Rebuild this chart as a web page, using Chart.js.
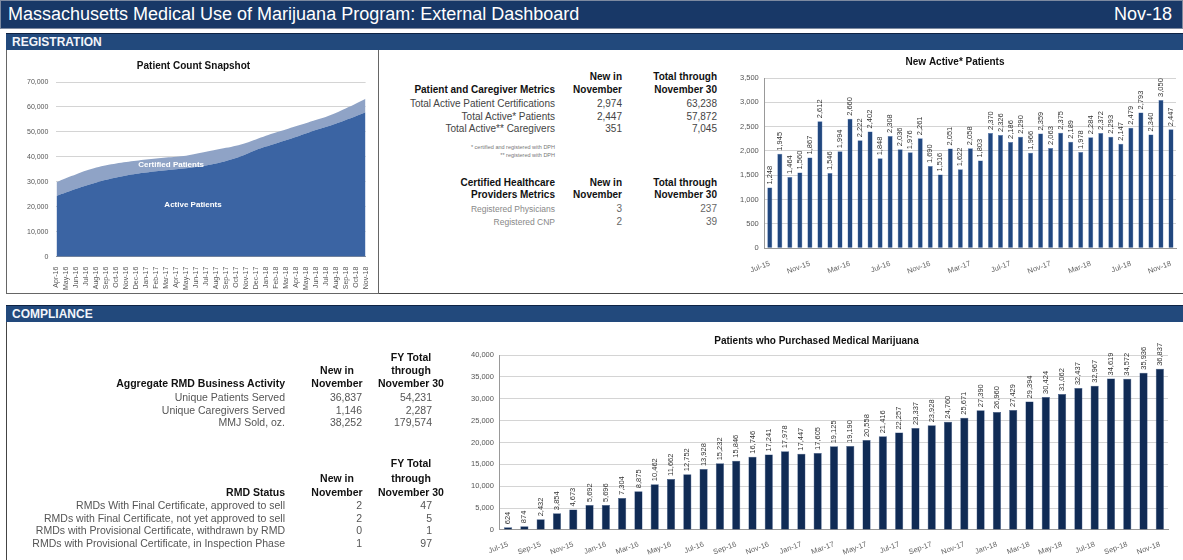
<!DOCTYPE html>
<html>
<head>
<meta charset="utf-8">
<script src="https://cdn.jsdelivr.net/npm/chart.js@4"></script>
<style>
  body { margin: 0; width: 1183px; height: 560px; background: #fff; position: relative; overflow: hidden;
         font-family: 'Liberation Sans', Arial, sans-serif; }
  .abs { position: absolute; }
  .titlebar { left: 0; top: 1; width: 1181px; height: 27px; background: #183867; border: 1px solid #7d8aa0; color: #fff;
              font-size: 18px; line-height: 27px; }
  .secbar { left: 6px; width: 1177px; height: 17px; background: #22497c; border-top: 1px solid #0e2344; color: #f2f5fa;
            font-size: 12px; font-weight: bold; line-height: 17px; padding-left: 6px; box-sizing: border-box; }
  .box { border-left: 1px solid #444; border-bottom: 1px solid #444; box-sizing: border-box; }
  .t { position: absolute; white-space: nowrap; line-height: 12px; }
  .b { font-weight: bold; color: #111; }
</style>
</head>
<body>
<div class="abs titlebar"><span style="padding-left:7px">Massachusetts Medical Use of Marijuana Program: External Dashboard</span>
  <span style="position:absolute; right:10px; top:0">Nov-18</span></div>

<div class="abs secbar" style="top:33px">REGISTRATION</div>
<div class="abs box" style="left:6px; top:50px; width:1177px; height:244px"></div>
<div class="abs" style="left:6px; top:50px; width:373px; height:244px; border:1px solid #666; border-top:none; box-sizing:border-box"></div>

<div class="abs secbar" style="top:305px">COMPLIANCE</div>
<div class="abs box" style="left:6px; top:322px; width:1177px; height:240px"></div>

<canvas id="snapshot" class="abs" style="left:8px; top:52px"></canvas>
<canvas id="newActive" class="abs" style="left:728px; top:53px"></canvas>
<canvas id="purchased" class="abs" style="left:458px; top:331px"></canvas>

<div id="tables"></div>

<script>
// Patient Count Snapshot (area)
const snapshotMonths = ['Apr-16','May-16','Jun-16','Jul-16','Aug-16','Sep-16','Oct-16','Nov-16','Dec-16',
  'Jan-17','Feb-17','Mar-17','Apr-17','May-17','Jun-17','Jul-17','Aug-17','Sep-17','Oct-17','Nov-17','Dec-17',
  'Jan-18','Feb-18','Mar-18','Apr-18','May-18','Jun-18','Jul-18','Aug-18','Sep-18','Oct-18','Nov-18'];
const activePatients = [24300, 25800, 27200, 28500, 29700, 30800, 31700, 32500, 33200, 33700, 34200, 34600,
  35000, 35400, 35900, 36500, 37300, 38300, 39500, 41000, 42700, 44100, 45400, 46700, 48000, 49400, 50800,
  52000, 53300, 54800, 56300, 57872];
const certifiedPatients = [29800, 31500, 33000, 34500, 35700, 36600, 37300, 37900, 38400, 38900, 39300, 39700,
  40000, 40400, 41200, 42000, 42800, 43600, 44500, 45600, 47000, 48500, 49800, 51000, 52300, 53500, 54800,
  56000, 57600, 59400, 61300, 63238];

// monthly bar charts
const barMonths = ['Jul-15','Aug-15','Sep-15','Oct-15','Nov-15','Dec-15',
  'Jan-16','Feb-16','Mar-16','Apr-16','May-16','Jun-16','Jul-16','Aug-16','Sep-16','Oct-16','Nov-16','Dec-16',
  'Jan-17','Feb-17','Mar-17','Apr-17','May-17','Jun-17','Jul-17','Aug-17','Sep-17','Oct-17','Nov-17','Dec-17',
  'Jan-18','Feb-18','Mar-18','Apr-18','May-18','Jun-18','Jul-18','Aug-18','Sep-18','Oct-18','Nov-18'];
const newActivePatients = [1248, 1945, 1464, 1560, 1867, 2612, 1546, 1994, 2660, 2222, 2402, 1848, 2308, 2036,
  1976, 2261, 1690, 1516, 2051, 1622, 2058, 1803, 2370, 2326, 2186, 2290, 1966, 2359, 2063, 2375, 2189, 1978,
  2284, 2372, 2293, 2147, 2479, 2793, 2340, 3050, 2447];
const purchasedPatients = [624, 874, 2432, 3854, 4673, 5692, 5696, 7304, 8875, 10462, 11662, 12752, 13928, 15232,
  15846, 16746, 17241, 17978, 17447, 17605, 19125, 19190, 20558, 21416, 22257, 23337, 23928, 24760, 25671,
  27390, 26960, 27429, 29394, 30424, 31062, 32437, 32967, 34619, 34572, 35936, 36837];

// text tables
const patientMetricLabels = ['Total Active Patient Certifications', 'Total Active* Patients', 'Total Active** Caregivers'];
const patientNewInNov = ['2,974', '2,447', '351'];
const patientTotalNov30 = ['63,238', '57,872', '7,045'];
const providerLabels = ['Registered Physicians', 'Registered CNP'];
const providerNewInNov = ['3', '2'];
const providerTotalNov30 = ['237', '39'];
const rmdActivityLabels = ['Unique Patients Served', 'Unique Caregivers Served', 'MMJ Sold, oz.'];
const rmdActivityNew = ['36,837', '1,146', '38,252'];
const rmdActivityFY = ['54,231', '2,287', '179,574'];
const rmdStatusLabels = ['RMDs With Final Certificate, approved to sell', 'RMDs with Final Certificate, not yet approved to sell',
  'RMDs with Provisional Certificate, withdrawn by RMD', 'RMDs with Provisional Certificate, in Inspection Phase'];
const rmdStatusNew = ['2', '2', '0', '1'];
const rmdStatusFY = ['47', '5', '1', '97'];

// build the text tables
const holder = document.getElementById('tables');
function txt(s, x, y, cls, size, align, color) {
  const d = document.createElement('div');
  d.className = 't ' + (cls || '');
  d.textContent = s;
  d.style.fontSize = size + 'px';
  d.style.top = (y - 6) + 'px';
  if (align === 'right') { d.style.right = (1183 - x) + 'px'; d.style.textAlign = 'right'; }
  else if (align === 'center') { d.style.left = (x - 60) + 'px'; d.style.width = '120px'; d.style.textAlign = 'center'; }
  else d.style.left = x + 'px';
  if (color) d.style.color = color;
  holder.appendChild(d);
}

// registration tables
txt('New in', 622, 77, 'b', 10, 'right');
txt('Total through', 717, 77, 'b', 10, 'right');
txt('Patient and Caregiver Metrics', 555, 90, 'b', 10, 'right');
txt('November', 622, 90, 'b', 10, 'right');
txt('November 30', 717, 90, 'b', 10, 'right');
patientMetricLabels.forEach((l, i) => {
  const y = 104 + i * 12.5;
  txt(l, 555, y, '', 10, 'right', '#444');
  txt(patientNewInNov[i], 622, y, '', 10, 'right', '#444');
  txt(patientTotalNov30[i], 717, y, '', 10, 'right', '#444');
});
txt('* certified and registered with DPH', 555, 147, '', 5.5, 'right', '#777');
txt('** registered with DPH', 555, 155, '', 5.5, 'right', '#777');
txt('Certified Healthcare', 555, 183, 'b', 10, 'right');
txt('New in', 622, 183, 'b', 10, 'right');
txt('Total through', 717, 183, 'b', 10, 'right');
txt('Providers Metrics', 555, 195, 'b', 10, 'right');
txt('November', 622, 195, 'b', 10, 'right');
txt('November 30', 717, 195, 'b', 10, 'right');
providerLabels.forEach((l, i) => {
  const y = 209 + i * 13;
  txt(l, 555, y, '', 8.5, 'right', '#888');
  txt(providerNewInNov[i], 622, y, '', 10, 'right', '#666');
  txt(providerTotalNov30[i], 717, y, '', 10, 'right', '#666');
});

// compliance tables
txt('FY Total', 411, 357, 'b', 10.5, 'center');
txt('New in', 337, 370, 'b', 10.5, 'center');
txt('through', 411, 370, 'b', 10.5, 'center');
txt('Aggregate RMD Business Activity', 285, 383, 'b', 10.5, 'right');
txt('November', 337, 383, 'b', 10.5, 'center');
txt('November 30', 411, 383, 'b', 10.5, 'center');
rmdActivityLabels.forEach((l, i) => {
  const y = 397 + i * 12.5;
  txt(l, 285, y, '', 10.5, 'right', '#555');
  txt(rmdActivityNew[i], 362, y, '', 10.5, 'right', '#555');
  txt(rmdActivityFY[i], 432, y, '', 10.5, 'right', '#555');
});
txt('FY Total', 411, 463, 'b', 10.5, 'center');
txt('New in', 337, 478, 'b', 10.5, 'center');
txt('through', 411, 478, 'b', 10.5, 'center');
txt('RMD Status', 285, 492, 'b', 10.5, 'right');
txt('November', 337, 492, 'b', 10.5, 'center');
txt('November 30', 411, 492, 'b', 10.5, 'center');
rmdStatusLabels.forEach((l, i) => {
  const y = 505 + i * 12.7;
  txt(l, 285, y, '', 10.5, 'right', '#555');
  txt(rmdStatusNew[i], 362, y, '', 10.5, 'right', '#555');
  txt(rmdStatusFY[i], 432, y, '', 10.5, 'right', '#555');
});

// charts
Chart.defaults.font.family = "'Liberation Sans', Arial, sans-serif";
Chart.defaults.color = '#555';
Chart.defaults.animation = false;

const fmt = v => Number(v).toLocaleString('en-US');

// vertical value labels over each bar
const barLabels = {
  id: 'barLabels',
  afterDatasetsDraw(chart, args, opts) {
    const ctx = chart.ctx;
    const meta = chart.getDatasetMeta(0);
    const data = chart.data.datasets[0].data;
    ctx.save();
    ctx.font = opts.font;
    ctx.fillStyle = opts.color;
    ctx.textAlign = 'left';
    ctx.textBaseline = 'middle';
    meta.data.forEach((bar, i) => {
      ctx.save();
      ctx.translate(bar.x, bar.y - 3);
      ctx.rotate(-Math.PI / 2);
      ctx.fillText(fmt(data[i]), 0, 0);
      ctx.restore();
    });
    ctx.restore();
  }
};

// series names written inside the area chart
const areaNames = {
  id: 'areaNames',
  afterDatasetsDraw(chart, args, opts) {
    const ctx = chart.ctx;
    ctx.save();
    ctx.font = 'bold 8px "Liberation Sans", Arial, sans-serif';
    ctx.fillStyle = '#fff';
    ctx.textAlign = 'center';
    ctx.textBaseline = 'middle';
    opts.items.forEach(it => {
      ctx.fillText(it.text, chart.scales.x.getPixelForValue(it.x), chart.scales.y.getPixelForValue(it.y));
    });
    ctx.restore();
  }
};

function setSize(id, w, h) {
  const c = document.getElementById(id);
  c.width = w; c.height = h;
  c.style.width = w + 'px'; c.style.height = h + 'px';
  return c;
}

new Chart(setSize('snapshot', 368, 240), {
  type: 'line',
  data: {
    labels: snapshotMonths,
    datasets: [
      { label: 'Active Patients', data: activePatients, fill: 'origin', backgroundColor: '#3b64a3',
        borderWidth: 0, pointRadius: 0, tension: 0.3 },
      { label: 'Certified Patients', data: certifiedPatients, fill: '-1', backgroundColor: '#8fa3c6',
        borderWidth: 0, pointRadius: 0, tension: 0.3 }
    ]
  },
  options: {
    responsive: false,
    layout: { padding: { left: 11, right: 8, top: 0, bottom: 0 } },
    plugins: {
      legend: { display: false },
      tooltip: { enabled: false },
      title: { display: true, text: 'Patient Count Snapshot', color: '#111',
               font: { size: 10, weight: 'bold' }, padding: { top: 8, bottom: 10 } },
      areaNames: { items: [ { text: 'Certified Patients', x: 11.5, y: 36900 },
                            { text: 'Active Patients', x: 13.7, y: 20800 } ] }
    },
    scales: {
      x: {
        offset: false,
        grid: { display: false },
        border: { color: '#999' },
        ticks: { autoSkip: false, minRotation: 90, maxRotation: 90, font: { size: 7 }, padding: 2 }
      },
      y: {
        min: 0, max: 70000,
        grid: { color: '#d4d4d4', drawTicks: false },
        border: { display: false },
        ticks: { stepSize: 10000, font: { size: 7 }, padding: 8, callback: v => fmt(v) }
      }
    }
  },
  plugins: [areaNames]
});

new Chart(setSize('newActive', 452, 236), {
  type: 'bar',
  data: {
    labels: barMonths,
    datasets: [{ data: newActivePatients, backgroundColor: '#21477f', borderColor: '#5a7bb0', borderWidth: 0.5,
                 barPercentage: 0.5, categoryPercentage: 1 }]
  },
  options: {
    responsive: false,
    layout: { padding: { left: 6, right: 4, top: 0, bottom: 10 } },
    plugins: {
      legend: { display: false },
      tooltip: { enabled: false },
      title: { display: true, text: 'New Active* Patients', color: '#111',
               font: { size: 10, weight: 'bold' }, padding: { top: 3, bottom: 10 } },
      barLabels: { font: '7.5px "Liberation Sans", Arial, sans-serif', color: '#333' }
    },
    scales: {
      x: {
        grid: { display: false },
        border: { color: '#999' },
        ticks: { autoSkip: false, minRotation: 20, maxRotation: 20, font: { size: 7.5 }, padding: 3, color: '#666',
                 callback: function(v, i) { return i % 4 === 0 ? this.getLabelForValue(v) : ''; } }
      },
      y: {
        min: 0, max: 3500,
        grid: { color: '#d4d4d4', drawTicks: false },
        border: { color: '#999' },
        ticks: { stepSize: 500, font: { size: 7.5 }, padding: 6, callback: v => fmt(v) }
      }
    }
  },
  plugins: [barLabels]
});

new Chart(setSize('purchased', 722, 228), {
  type: 'bar',
  data: {
    labels: barMonths,
    datasets: [{ data: purchasedPatients, backgroundColor: '#102b55', borderColor: '#3a5584', borderWidth: 0.5,
                 barPercentage: 0.5, categoryPercentage: 1 }]
  },
  options: {
    responsive: false,
    layout: { padding: { left: 7, right: 12, top: 0, bottom: 0 } },
    plugins: {
      legend: { display: false },
      tooltip: { enabled: false },
      title: { display: true, text: 'Patients who Purchased Medical Marijuana', color: '#111',
               font: { size: 10, weight: 'bold' }, padding: { top: 4, bottom: 8 } },
      barLabels: { font: '7.5px "Liberation Sans", Arial, sans-serif', color: '#333' }
    },
    scales: {
      x: {
        grid: { display: false },
        border: { color: '#999' },
        ticks: { autoSkip: false, minRotation: 20, maxRotation: 20, font: { size: 7.5 }, padding: 2, color: '#666',
                 callback: function(v, i) { return i % 2 === 0 ? this.getLabelForValue(v) : ''; } }
      },
      y: {
        min: 0, max: 40000,
        grid: { color: '#d4d4d4', drawTicks: false },
        border: { color: '#999' },
        ticks: { stepSize: 5000, font: { size: 7.5 }, padding: 6, callback: v => fmt(v) }
      }
    }
  },
  plugins: [barLabels]
});
</script>
</body>
</html>
